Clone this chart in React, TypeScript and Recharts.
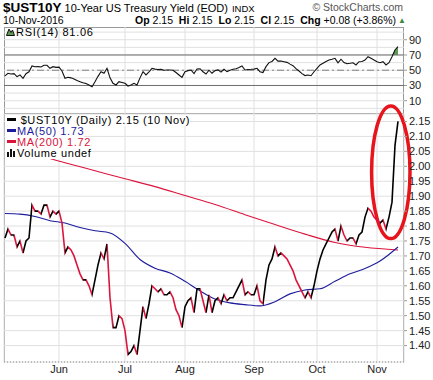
import {
    ComposedChart,
    Line,
    Area,
    XAxis,
    YAxis,
    CartesianGrid,
    ReferenceLine,
    ReferenceArea
} from 'recharts';

// trading-day index 0 = 5 May 2016, last = 10 Nov 2016
const closes = [
    1.76, 1.79, 1.77, 1.77, 1.73, 1.75, 1.71, 1.75, 1.76, 1.87,
    1.85, 1.85, 1.84, 1.87, 1.87, 1.83, 1.85, 1.84, 1.85, 1.81,
    1.71, 1.73, 1.72, 1.70, 1.67, 1.64, 1.62, 1.62, 1.60, 1.57,
    1.62, 1.67, 1.71, 1.69, 1.74, 1.56, 1.46, 1.46, 1.50, 1.49,
    1.45, 1.37, 1.38, 1.40, 1.37, 1.45, 1.53, 1.49, 1.54, 1.60,
    1.59, 1.58, 1.59, 1.57, 1.57, 1.58, 1.56, 1.52, 1.50, 1.46,
    1.53, 1.55, 1.56, 1.51, 1.59, 1.59, 1.55, 1.51, 1.57, 1.51,
    1.55, 1.56, 1.54, 1.57, 1.55, 1.56, 1.56, 1.58, 1.60, 1.62,
    1.57, 1.58, 1.57, 1.57, 1.60, 1.55, 1.54, 1.62, 1.67, 1.69,
    1.73, 1.70, 1.71, 1.70, 1.69, 1.67, 1.65, 1.62, 1.60, 1.58,
    1.56, 1.58, 1.56, 1.60, 1.65, 1.69, 1.72, 1.74, 1.76, 1.78,
    1.79, 1.75, 1.80, 1.77, 1.75, 1.76, 1.76, 1.74, 1.77, 1.78,
    1.83, 1.86, 1.85, 1.83, 1.82, 1.81, 1.82, 1.79, 1.83, 1.88,
    2.07, 2.15
];

const rsiValues = [
    42.5, 46, 45, 45.5, 41.6, 43.8, 39.4, 45.5, 48, 55.6,
    54.5, 54.7, 54.2, 56.5, 56.5, 52.5, 54.7, 53.8, 54, 49,
    39.4, 40.7, 40, 38.5, 36.5, 35, 33.5, 32.5, 30.7, 28.4,
    35, 42, 48, 46, 52.5, 40, 32.9, 30.7, 35, 34,
    32.9, 29.3, 30.7, 32.9, 30.7, 40, 48.1, 43.8, 48, 52.5,
    51.5, 51, 51.2, 50, 50.3, 50.3, 50, 47, 43.8, 40.7,
    48.1, 49.5, 50.3, 45.5, 51.6, 52, 48, 45, 50, 46,
    49.5, 50.5, 47.5, 51.2, 48.1, 50, 51.2, 52, 53.5, 55.6,
    50.3, 51, 51.2, 51.5, 52.5, 48.1, 47, 54.7, 60, 61.5,
    65.6, 62, 62, 61.2, 60.3, 58, 56, 52, 49, 45.5,
    43, 43.8, 42.8, 48, 52.5, 57, 59.1, 61.5, 63.5, 64.4,
    65.6, 59.8, 64.4, 60, 58.5, 59.1, 59.8, 56.9, 61.2, 61.5,
    63.3, 67.8, 65.6, 63.3, 61, 59.8, 61.2, 56.9, 59.8, 67.8,
    76.6, 81.06
];

const ma50Days = [0, 5, 10, 15, 20, 25, 30, 35, 40, 45, 50, 55, 60, 65, 70, 75, 80, 85, 90, 95, 100, 105, 110, 115, 120, 125, 131];
const ma50Values = [1.842, 1.840, 1.832, 1.818, 1.810, 1.795, 1.784, 1.777, 1.742, 1.688, 1.659, 1.643, 1.615, 1.583, 1.556, 1.543, 1.537, 1.533, 1.547, 1.573, 1.586, 1.590, 1.615, 1.640, 1.658, 1.683, 1.73];

const ma200Days = [0, 10, 20, 30, 40, 50, 60, 70, 80, 90, 100, 110, 120, 131];
const ma200Values = [2.066, 2.040, 2.012, 1.985, 1.958, 1.932, 1.902, 1.872, 1.838, 1.805, 1.773, 1.745, 1.729, 1.72];

const monthDays = [18, 40, 60, 83, 104, 124];
const monthNames = ['Jun', 'Jul', 'Aug', 'Sep', 'Oct', 'Nov'];

const priceTicks = [1.40, 1.45, 1.50, 1.55, 1.60, 1.65, 1.70, 1.75, 1.80, 1.85, 1.90, 1.95, 2.00, 2.05, 2.10, 2.15];
const rsiTicks = [10, 30, 50, 70, 90];
const rsiGrid = [0, 10, 20, 30, 40, 50, 60, 70, 80, 90, 100];

// red ring drawn around the election spike
const ringDays = [122.2, 135];
const ringYields = [1.758, 2.202];

const UP = '#000000';
const DOWN = '#dc143c';
const GRID = '#e0e0e0';
const FRAME = '#9a9a9a';
const X_DOMAIN = [-1 / 3, 133];

const rows = closes.map((c, i) => {
    const a = ma50Days.indexOf(i);
    const b = ma200Days.indexOf(i);
    return {
        i,
        close: c,
        rsi: rsiValues[i],
        rsiHigh: [70, Math.max(70, rsiValues[i])],
        ma50: a >= 0 ? ma50Values[a] : null,
        ma200: b >= 0 ? ma200Values[b] : null,
    };
});

// up days black, down days red
const last = closes.length - 1;
const dirStops = [];
for (let i = 0; i < last; i++) {
    const col = closes[i + 1] < closes[i] ? DOWN : UP;
    dirStops.push(<stop key={'a' + i} offset={i / last} stopColor={col} />);
    dirStops.push(<stop key={'b' + i} offset={(i + 1) / last} stopColor={col} />);
}

const Ring = (props: any) => {
    const { x, y, width, height } = props;
    return (
        <ellipse
            cx={x + width / 2}
            cy={y + height / 2}
            rx={width / 2}
            ry={height / 2}
            fill="none"
            stroke="#e8141c"
            strokeWidth={3.5}
        />
    );
};

const tickStyle = { fill: '#222', fontSize: 11 };

const Mark = ({ color }: { color: string }) => (
    <span style={{ display: 'inline-block', width: 9, height: 3, background: color, verticalAlign: 'middle', marginRight: 1, marginTop: -2 }} />
);

const App = () => {
    return (
        <div style={{
            position: 'absolute', left: 0, top: 0, width: 433, height: 380, background: '#fff',
            fontFamily: '"Liberation Sans", Arial, sans-serif', color: '#000', overflow: 'hidden'
        }}>
            {/* header */}
            <div style={{ position: 'absolute', left: 3, top: 0, whiteSpace: 'nowrap', lineHeight: '14px' }}>
                <span style={{ fontSize: 13.5, fontWeight: 'bold' }}>$UST10Y</span>
                <span style={{ fontSize: 11, marginLeft: 3 }}>10-Year US Treasury Yield (EOD)</span>
                <span style={{ fontSize: 9.5, marginLeft: 4 }}>INDX</span>
            </div>
            <div style={{ position: 'absolute', right: 30, top: 0, lineHeight: '14px', fontSize: 10.5, color: '#555', whiteSpace: 'nowrap' }}>
                © StockCharts.com
            </div>
            <div style={{ position: 'absolute', left: 3, top: 14, lineHeight: '12px', fontSize: 10.5, whiteSpace: 'nowrap' }}>
                10-Nov-2016
            </div>
            <div style={{ position: 'absolute', right: 37, top: 14, lineHeight: '12px', fontSize: 10.5, whiteSpace: 'nowrap' }}>
                <b>Op</b> 2.15 &nbsp;<b>Hi</b> 2.15 &nbsp;<b>Lo</b> 2.15 &nbsp;<b>Cl</b> 2.15 &nbsp;<b>Chg</b> +0.08 (+3.86%)
            </div>
            <div style={{ position: 'absolute', left: 398, top: 16, fontSize: 8, color: '#3d8a3d', lineHeight: '10px' }}>▲</div>

            {/* panel frames */}
            <div style={{ position: 'absolute', left: 4, top: 27, width: 400, height: 335, boxSizing: 'border-box', borderLeft: '1px solid ' + FRAME, borderRight: '1px solid ' + FRAME }} />
            <div style={{ position: 'absolute', left: 4, top: 27, width: 400, height: 1, background: FRAME }} />
            <div style={{ position: 'absolute', left: 4, top: 113, width: 400, height: 1, background: '#888' }} />

            {/* RSI panel */}
            <div style={{ position: 'absolute', left: 0, top: 27 }}>
                <ComposedChart width={433} height={87} data={rows} margin={{ top: 0, right: 0, bottom: 0, left: 4 }}>
                    <CartesianGrid stroke={GRID} horizontalValues={rsiGrid} verticalValues={monthDays} />
                    <XAxis dataKey="i" type="number" domain={X_DOMAIN} allowDataOverflow hide ticks={monthDays} />
                    <YAxis
                        orientation="right"
                        width={29}
                        domain={[-7.4, 106.7]}
                        allowDataOverflow
                        ticks={rsiTicks}
                        interval={0}
                        axisLine={false}
                        tickLine={{ stroke: FRAME }}
                        tickSize={3}
                        tickMargin={2}
                        tick={tickStyle}
                    />
                    <ReferenceLine y={70} stroke="#6e6e6e" />
                    <ReferenceLine y={30} stroke="#6e6e6e" />
                    <ReferenceLine y={50} stroke="#808080" strokeDasharray="7 3 2 3" />
                    <Area dataKey="rsiHigh" type="linear" stroke="none" fill="#5e9a50" fillOpacity={1} isAnimationActive={false} />
                    <Line dataKey="rsi" type="linear" stroke="#111" strokeWidth={1.1} dot={false} isAnimationActive={false} />
                </ComposedChart>
            </div>
            <div style={{ position: 'absolute', left: 6, top: 27, lineHeight: '11px', fontSize: 11, letterSpacing: 0.7, whiteSpace: 'nowrap' }}>
                <svg width={9} height={8} style={{ marginRight: 1, verticalAlign: 'baseline' }}>
                    <polygon points="0.5,7.5 3,1 5,4.5 6.5,2 8.5,7.5" fill="#5e9a50" stroke="#111" strokeWidth={1} />
                </svg>
                RSI(14) 81.06
            </div>

            {/* price panel */}
            <div style={{ position: 'absolute', left: 0, top: 100 }}>
                <ComposedChart width={433} height={280} data={rows} margin={{ top: 14, right: 0, bottom: 0, left: 4 }}>
                    <defs>
                        <linearGradient id="priceDir" x1="0" y1="0" x2="1" y2="0">
                            {dirStops}
                        </linearGradient>
                    </defs>
                    <CartesianGrid stroke={GRID} />
                    <XAxis
                        dataKey="i"
                        type="number"
                        domain={X_DOMAIN}
                        allowDataOverflow
                        ticks={monthDays}
                        interval={0}
                        tickFormatter={(v) => monthNames[monthDays.indexOf(v)]}
                        axisLine={{ stroke: '#8a8a8a', strokeDasharray: '1 2' }}
                        tickLine={false}
                        tickSize={3}
                        tickMargin={0}
                        height={18}
                        tick={tickStyle}
                    />
                    <YAxis
                        orientation="right"
                        width={29}
                        domain={[1.345, 2.175]}
                        allowDataOverflow
                        ticks={priceTicks}
                        interval={0}
                        tickFormatter={(v) => v.toFixed(2)}
                        axisLine={false}
                        tickLine={{ stroke: FRAME }}
                        tickSize={3}
                        tickMargin={2}
                        tick={tickStyle}
                    />
                    <Line dataKey="ma200" type="monotone" stroke="#dc143c" strokeWidth={1.1} dot={false} connectNulls isAnimationActive={false} />
                    <Line dataKey="ma50" type="monotone" stroke="#1c1c9c" strokeWidth={1.1} dot={false} connectNulls isAnimationActive={false} />
                    <Line dataKey="close" type="linear" stroke="url(#priceDir)" strokeWidth={1.6} dot={false} isAnimationActive={false} />
                    <ReferenceArea
                        x1={ringDays[0]}
                        x2={ringDays[1]}
                        y1={ringYields[0]}
                        y2={ringYields[1]}
                        ifOverflow="visible"
                        shape={<Ring />}
                    />
                </ComposedChart>
            </div>

            {/* legend */}
            <div style={{ position: 'absolute', left: 5, top: 114.5, fontSize: 11, lineHeight: '11px', letterSpacing: 0.6, whiteSpace: 'nowrap' }}>
                <div style={{ background: '#fff', width: 'fit-content', paddingLeft: 2 }}><Mark color="#000" /> $UST10Y (Daily) 2.15 (10 Nov)</div>
                <div style={{ background: '#fff', width: 'fit-content', paddingLeft: 2, color: '#1c1c9c' }}><Mark color="#1c1c9c" />MA(50) 1.73</div>
                <div style={{ background: '#fff', width: 'fit-content', paddingLeft: 2, color: '#dc143c' }}><Mark color="#dc143c" />MA(200) 1.72</div>
                <div style={{ background: '#fff', width: 'fit-content', paddingLeft: 2 }}>
                    <svg width={9} height={8} style={{ marginRight: 1 }}>
                        <rect x={0} y={3} width={2} height={5} fill="#111" />
                        <rect x={3} y={0} width={2} height={8} fill="#111" />
                        <rect x={6} y={2} width={2} height={6} fill="#111" />
                    </svg>
                    Volume undef
                </div>
            </div>
        </div>
    );
};

export default App;
